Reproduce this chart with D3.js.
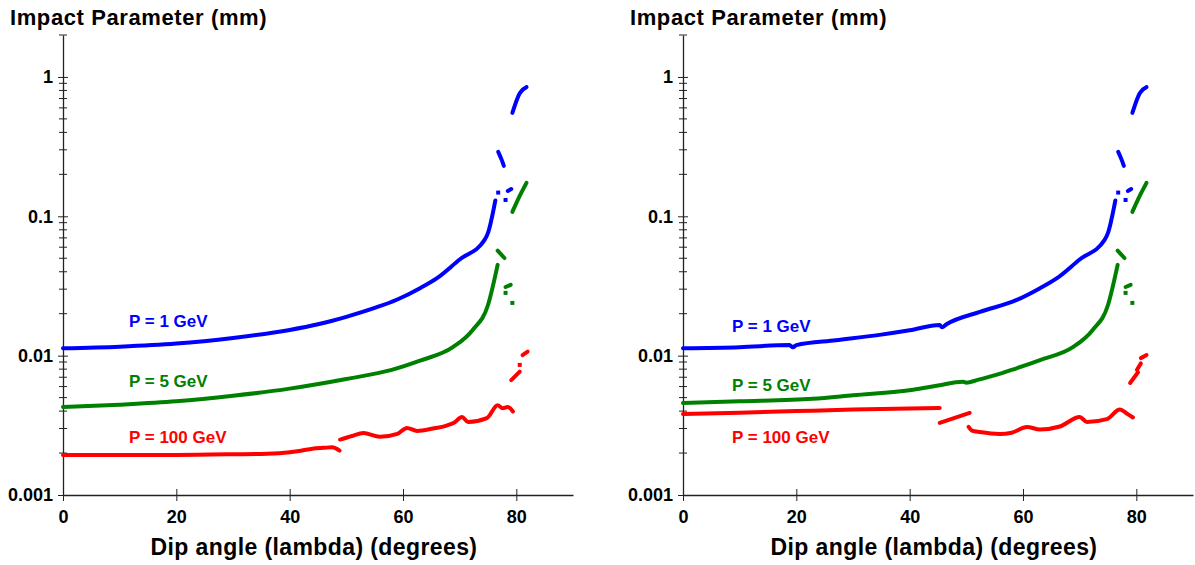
<!DOCTYPE html>
<html>
<head>
<meta charset="utf-8">
<script src="https://cdn.jsdelivr.net/npm/d3@7"></script>
<style>
  body { margin: 0; background: #fff; }
  svg { display: block; font-family: "Liberation Sans", Arial, sans-serif; }
</style>
</head>
<body>
<svg id="chart" width="1195" height="565"></svg>
<script>
// tick labels
let xTicks = [0, 20, 40, 60, 80];
let yTicks = [1, 0.1, 0.01, 0.001];
let yTickLabels = ["1", "0.1", "0.01", "0.001"];
let seriesNames = ["P = 1 GeV", "P = 5 GeV", "P = 100 GeV"];
let seriesColors = ["#0000ff", "#008000", "#ff0000"];

// each series is a list of pieces [dip angle, impact parameter]; gaps between pieces
// left panel
let blueLeft = [
  [[0,0.0113],[10,0.0116],[20,0.0122],[30,0.0134],[40,0.0153],[45,0.0168],[50,0.0190],[55,0.0220],[59,0.0253],[63,0.0305],[66,0.036],[70,0.0490],[74.4,0.0677],[75,0.0760],[76.3,0.130]],
  [[76.8,0.148]],
  [[78.1,0.131]],
  [[78.5,0.152],[79.1,0.157]],
  [[76.8,0.290],[77.4,0.255],[77.8,0.230]],
  [[79.3,0.552],[80.6,0.765],[81.8,0.846]]
];
let greenLeft = [
  [[0,0.00428],[10,0.00445],[20,0.00470],[30,0.00515],[40,0.00580],[50,0.0068],[58,0.0079],[63,0.0092],[68.8,0.0115],[72.3,0.0153],[75,0.0231],[76.7,0.0448]],
  [[76.7,0.0567],[77.9,0.0502]],
  [[78.1,0.0311],[79.0,0.0322]],
  [[78.1,0.0282]],
  [[79.3,0.0239]],
  [[79.3,0.1076],[80.6,0.140],[81.8,0.174]]
];
let redLeft = [
  [[0,0.00194],[20,0.00194],[30,0.00196],[36,0.00198],[40,0.00203],[42,0.00208],[44,0.00215],[46,0.00218],[47.5,0.00220],[48.8,0.00208]],
  [[48.9,0.00250],[51,0.00265],[53,0.00278],[55.9,0.00262],[59,0.00275],[60.7,0.00303],[62.5,0.00288],[65.3,0.00300],[67.7,0.00315],[69,0.0033],[70.4,0.00363],[71.5,0.00334],[74.8,0.00356],[76.7,0.00440],[77.6,0.00420],[78.5,0.00428],[79.4,0.00398]],
  [[79.1,0.00668],[80.6,0.00768]],
  [[80.6,0.00858]],
  [[81.1,0.0101],[82.0,0.0107]]
];
// right panel
let blueRight = [
  [[0,0.0113],[10,0.0115],[18.8,0.0119],[19.4,0.0115],[20,0.0119],[27,0.0129],[34.7,0.0141],[40,0.0152],[45.3,0.0166],[45.7,0.0160],[46.5,0.0168],[52.4,0.0206],[58.9,0.0251],[63,0.0305],[66,0.036],[70,0.0490],[74.4,0.0677],[75,0.0760],[76.3,0.130]],
  [[76.8,0.148]],
  [[78.1,0.131]],
  [[78.5,0.152],[79.1,0.157]],
  [[76.8,0.290],[77.4,0.255],[77.8,0.230]],
  [[79.3,0.552],[80.6,0.765],[81.8,0.846]]
];
let greenRight = [
  [[0,0.00458],[10,0.00470],[22.9,0.0049],[30,0.0052],[40.6,0.0057],[45,0.0061],[49.4,0.0065],[50,0.0064],[52,0.0067],[55.4,0.0073],[58,0.0079],[63,0.0093],[68.8,0.0115],[72.3,0.0153],[75,0.0231],[76.7,0.0448]],
  [[76.7,0.0567],[77.9,0.0502]],
  [[78.1,0.0311],[79.0,0.0322]],
  [[78.1,0.0282]],
  [[79.3,0.0239]],
  [[79.3,0.1076],[80.6,0.140],[81.8,0.174]]
];
let redRight = [
  [[0,0.00381],[10,0.0039],[20,0.0040],[30,0.0041],[40,0.00418],[45.3,0.00421]],
  [[45.3,0.00329],[50.6,0.00388]],
  [[50.4,0.00308],[51,0.0029],[52.4,0.00283],[55.9,0.00274],[58,0.0028],[60.7,0.00308],[63,0.00295],[66.5,0.0031],[70,0.00363],[71.3,0.00334],[74.8,0.00350],[77.1,0.00410],[78.3,0.00385],[79.4,0.00360]],
  [[78.9,0.00637],[80.3,0.0076]],
  [[80.1,0.0079],[80.8,0.0088]],
  [[80.8,0.0096],[81.8,0.0101]]
];

let panels = [
  { left: 63, series: [blueLeft, greenLeft, redLeft], labelY: [327, 387, 443], labelX: 129 },
  { left: 683, series: [blueRight, greenRight, redRight], labelY: [332, 391, 443], labelX: 732 }
];

let chart = d3.select("#chart");
let plotW = 510;
let plotTop = 35, plotBottom = 495;

panels.forEach(function(p) {
  let g = chart.append("g").attr("transform", "translate(" + p.left + ",0)");

  let x = d3.scaleLinear().domain([0, 90]).range([0, plotW]);
  let y = d3.scaleLog().domain([0.001, 2]).range([plotBottom, plotTop]);

  // title
  g.append("text")
    .attr("x", -53).attr("y", 25)
    .attr("font-size", "22px").attr("font-weight", "bold")
    .attr("letter-spacing", "0.6px")
    .attr("fill", "#000")
    .text("Impact Parameter (mm)");

  // y axis with minor ticks
  let minor = [];
  [0.001, 0.01, 0.1, 1].forEach(function(d) {
    for (let k = 2; k <= 9; k++) {
      let v = d * k;
      if (v <= 2.0001) minor.push(v);
    }
  });
  g.append("g")
    .call(d3.axisLeft(y).tickValues(yTicks).tickFormat(function(d, i) { return yTickLabels[i]; })
      .tickSizeInner(5).tickSizeOuter(0).tickPadding(5))
    .call(function(a) {
      a.select(".domain").attr("stroke", "#222").attr("stroke-width", 1.3);
      a.selectAll(".tick line").attr("stroke", "#222").attr("x2", 5).attr("x1", -5);
      a.selectAll(".tick text").attr("font-size", "18px").attr("font-weight", "bold")
        .attr("font-family", "Liberation Sans, Arial, sans-serif").attr("fill", "#000");
    });
  g.append("g").selectAll("line")
    .data(minor).enter().append("line")
      .attr("x1", -4).attr("x2", 4)
      .attr("y1", function(d) { return y(d); })
      .attr("y2", function(d) { return y(d); })
      .attr("stroke", "#222");

  // x axis
  g.append("g")
    .attr("transform", "translate(0," + plotBottom + ")")
    .call(d3.axisBottom(x).tickValues(xTicks).tickSizeInner(6).tickSizeOuter(0).tickPadding(9))
    .call(function(a) {
      a.select(".domain").attr("stroke", "#222").attr("stroke-width", 1.3);
      a.selectAll(".tick line").attr("stroke", "#222").attr("y1", -6).attr("y2", 6);
      a.selectAll(".tick text").attr("font-size", "18px").attr("font-weight", "bold")
        .attr("font-family", "Liberation Sans, Arial, sans-serif").attr("fill", "#000");
    });

  g.append("text")
    .attr("text-anchor", "middle")
    .attr("x", plotW / 2 - 4).attr("y", 555)
    .attr("font-size", "23px").attr("font-weight", "bold")
    .attr("letter-spacing", "0.4px")
    .text("Dip angle (lambda) (degrees)");

  // curves
  let line = d3.line()
    .curve(d3.curveMonotoneX)
    .x(function(d) { return x(d[0]); })
    .y(function(d) { return y(d[1]); });

  p.series.forEach(function(pieces, si) {
    let col = seriesColors[si];
    let sg = g.append("g");
    sg.selectAll("path")
      .data(pieces.filter(function(s) { return s.length > 1; }))
      .enter().append("path")
        .attr("d", line)
        .attr("fill", "none")
        .attr("stroke", col)
        .attr("stroke-width", 4)
        .attr("stroke-linecap", "round")
        .attr("stroke-linejoin", "round");
    sg.selectAll("rect")
      .data(pieces.filter(function(s) { return s.length === 1; }))
      .enter().append("rect")
        .attr("x", function(s) { return x(s[0][0]) - 2; })
        .attr("y", function(s) { return y(s[0][1]) - 2; })
        .attr("width", 4).attr("height", 4)
        .attr("fill", col);

    g.append("text")
      .attr("x", p.labelX - p.left).attr("y", p.labelY[si])
      .attr("font-size", "17px").attr("font-weight", "bold")
      .attr("fill", col)
      .text(seriesNames[si]);
  });
});
</script>
</body>
</html>
